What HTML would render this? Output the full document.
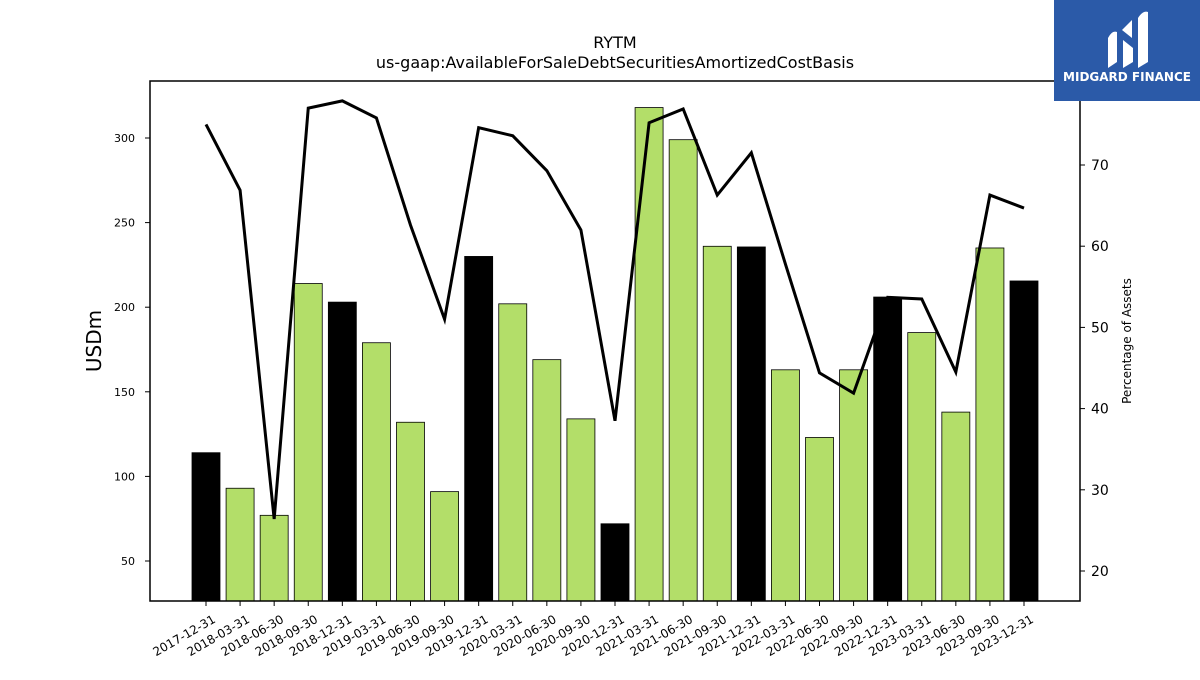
<!DOCTYPE html>
<html><head><meta charset="utf-8"><style>
body{margin:0;background:#fff;}
svg text{font-family:"DejaVu Sans","Liberation Sans",sans-serif;}
</style></head><body>
<svg id="chart" width="1200" height="675" xmlns="http://www.w3.org/2000/svg">
<text x="615" y="48" font-size="16" text-anchor="middle">RYTM</text>
<text x="615" y="68" font-size="16" text-anchor="middle">us-gaap:AvailableForSaleDebtSecuritiesAmortizedCostBasis</text>
<g id="bars"></g>
<g id="line"></g>
<g id="axes"></g>
<rect x="150" y="81" width="930" height="520" fill="none" stroke="#000" stroke-width="1.5"/>
<text transform="translate(101,341) rotate(-90)" font-size="20" text-anchor="middle">USDm</text>
<text transform="translate(1131,341) rotate(-90)" font-size="12" text-anchor="middle">Percentage of Assets</text>
<g>
<rect x="1054" y="0" width="146" height="101" fill="#2b5aa8"/>
<path d="M1108 68 L1108 38 Q1112 30 1117 32 L1117 62 Z M1123 68 L1123 40 L1133 48 L1133 62 Z M1138 68 L1138 18 Q1143 10 1148 12 L1148 62 Z M1122 30 L1132 20 L1132 38 Z" fill="#fff"/>
<text x="1127" y="81" font-size="12" font-weight="bold" fill="#fff" text-anchor="middle">MIDGARD FINANCE</text>
</g>
</svg>
<script>
const categories=["2017-12-31","2018-03-31","2018-06-30","2018-09-30","2018-12-31","2019-03-31","2019-06-30","2019-09-30","2019-12-31","2020-03-31","2020-06-30","2020-09-30","2020-12-31","2021-03-31","2021-06-30","2021-09-30","2021-12-31","2022-03-31","2022-06-30","2022-09-30","2022-12-31","2023-03-31","2023-06-30","2023-09-30","2023-12-31"];
const barValues=[114,93,77,214,203,179,132,91,230,202,169,134,72,318,299,236,235.6,163,123,163,206,185,138,235,215.5];
const pctValues=[75.0,66.9,26.4,77.0,77.9,75.8,62.6,51.0,74.6,73.6,69.3,62.0,38.5,75.2,76.9,66.3,71.5,57.8,44.4,41.9,53.7,53.5,44.5,66.3,64.7];
const leftTicks=[50,100,150,200,250,300];
const rightTicks=[20,30,40,50,60,70];
const NS="http://www.w3.org/2000/svg";
const yL=v=>561-(v-50)*(423/250);
const yR=p=>571-(p-20)*8.12;
const xC=i=>206+i*(818/24);
function mk(t,a,parent){const e=document.createElementNS(NS,t);for(const k in a)e.setAttribute(k,a[k]);parent.appendChild(e);return e;}
const bars=document.getElementById('bars'),line=document.getElementById('line'),axes=document.getElementById('axes');
categories.forEach((c,i)=>{
 const black=c.endsWith('12-31');
 const y=yL(barValues[i]);
 const r=mk('rect',{x:xC(i)-14,y:y,width:28,height:601-y,fill:black?'#000':'#b3de69',stroke:'#000','stroke-width':0.8},bars);
 
 
 const t=mk('line',{x1:xC(i),x2:xC(i),y1:601,y2:606,stroke:'#000'},axes);
 
 
 const lb=mk('text',{transform:`translate(${xC(i)+6},${614}) rotate(-30)`,'font-size':12,'text-anchor':'end','dominant-baseline':'hanging'},axes);
 lb.textContent=c;
 
 
});
const pl=mk('polyline',{points:pctValues.map((p,i)=>xC(i)+','+yR(p)).join(' '),fill:'none',stroke:'#000','stroke-width':3},line);


leftTicks.forEach(v=>{
 const t=mk('line',{x1:145,x2:150,y1:yL(v),y2:yL(v),stroke:'#000'},axes);
 
 
 const l=mk('text',{x:135,y:yL(v)+4,'font-size':11,'text-anchor':'end'},axes);
 l.textContent=v;
 
 
});
rightTicks.forEach(v=>{
 const t=mk('line',{x1:1080,x2:1085,y1:yR(v),y2:yR(v),stroke:'#000'},axes);
 
 
 const l=mk('text',{x:1091,y:yR(v)+5,'font-size':14},axes);
 l.textContent=v;
 
 
});
</script>
</body></html>
